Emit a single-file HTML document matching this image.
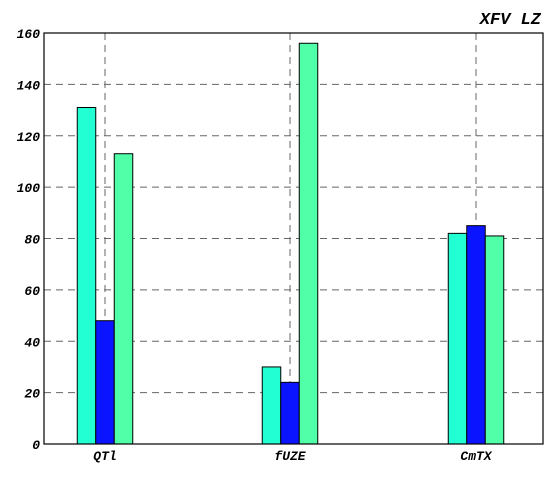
<!DOCTYPE html>
<html><head><meta charset="utf-8"><style>
body{margin:0;background:#fff}
text{font-family:"Liberation Mono",monospace;font-style:italic;font-weight:bold}
</style></head><body>
<svg width="553" height="474">
<text x="541" y="24" text-anchor="end" font-size="17">XFV LZ</text>
<g id="grid"></g><g id="bars"></g>
<rect x="44" y="33" width="499" height="411" fill="none" stroke="#000" stroke-width="1.2"/>
<g id="axes"></g>
</svg>
<script>
const categories=["QTl","fUZE","CmTX"];
const series1=[131,30,82];
const series2=[48,24,85];
const series3=[113,156,81];
const yTicks=[0,20,40,60,80,100,120,140,160];
const colors=["#22ffd2","#0a14ff","#50ffa8"];
const L=44,R=543,T=33,B=444,yMax=160;
const y=v=>B-(v/yMax)*(B-T);
const gw=(R-L)/categories.length;
const xc=i=>L+gw*(i+0.5)-81+ (i===0?0:0);
const centers=[105,290,476];
const cx=i=>centers[i];
const ns="http://www.w3.org/2000/svg";
const grid=document.getElementById('grid'),bars=document.getElementById('bars'),axes=document.getElementById('axes');
function mk(tag,attrs,parent){const e=document.createElementNS(ns,tag);for(const k in attrs)e.setAttribute(k,attrs[k]);parent.appendChild(e);return e;}
yTicks.forEach(t=>{
  if(t>0&&t<yMax){const g=mk('line',{x1:L,x2:R,y1:y(t),y2:y(t),stroke:'#666','stroke-dasharray':'7,5'},grid);
  
  }
  const tx=mk('text',{x:L-4,y:y(t)+5,'text-anchor':'end','font-size':'13'},axes);tx.textContent=t;
  
  
});
const all=[series1,series2,series3];const bw=18.5;
categories.forEach((c,i)=>{
  const g=mk('line',{x1:cx(i),x2:cx(i),y1:T,y2:B,stroke:'#666','stroke-dasharray':'7,5'},grid);
  
  
  all.forEach((s,j)=>{
    const r=mk('rect',{x:cx(i)+(j-1.5)*bw,y:y(s[i]),width:bw,height:B-y(s[i]),fill:colors[j],stroke:'#000','stroke-width':1},bars);
    
    
  });
  const tx=mk('text',{x:cx(i),y:B+16,'text-anchor':'middle','font-size':'13'},axes);tx.textContent=c;
  
  
});
</script>
</body></html>
